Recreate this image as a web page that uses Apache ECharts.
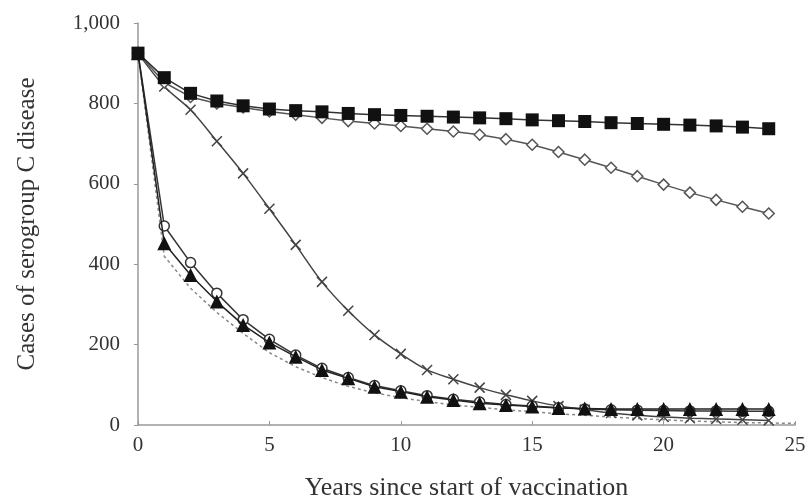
<!DOCTYPE html>
<html>
<head>
<meta charset="utf-8">
<script src="https://cdn.jsdelivr.net/npm/echarts@6/dist/echarts.min.js"></script>
<style>
  html, body { margin: 0; padding: 0; background: #fff; }
  #chart { width: 808px; height: 500px; }
</style>
</head>
<body>
<div id="chart"></div>
<script>
// years 0..24
const years = [0, 1, 2, 3, 4, 5, 6, 7, 8, 9, 10, 11, 12, 13, 14, 15, 16, 17, 18, 19, 20, 21, 22, 23, 24]
const squares = [925, 864, 825, 806, 794, 786, 782, 779, 775, 772, 770, 768, 766, 764, 762, 759, 757, 755, 752, 750, 748, 746, 744, 741, 737]
const diamonds = [925, 852, 816, 800, 790, 780, 772, 764, 756, 750, 744, 737, 730, 722, 711, 697, 679, 660, 640, 619, 598, 578, 560, 543, 526]
const crosses = [925, 842, 784, 706, 626, 538, 448, 356, 284, 224, 177, 137, 114, 93, 75, 60, 47, 38, 30, 24, 20, 17, 15, 13, 11]
const circles = [925, 495, 404, 328, 262, 213, 174, 141, 118, 98, 85, 73, 64, 57, 51, 47, 43, 40, 38, 37, 36, 35, 35, 34, 34]
const triangles = [925, 452, 373, 307, 249, 205, 170, 137, 116, 95, 83, 70, 62, 54, 50, 46, 42, 41, 40, 40, 40, 40, 40, 40, 40]
// dashed curve, no markers (years 0..25)
const dashYears = [0, 1, 2, 3, 4, 5, 6, 7, 8, 9, 10, 11, 12, 13, 14, 15, 16, 17, 18, 19, 20, 21, 22, 23, 24, 25]
const dashed = [925, 420, 340, 280, 228, 180, 145, 118, 96, 80, 68, 58, 50, 44, 38, 33, 28, 24, 20, 16, 13, 10, 8, 6, 5, 4]

const font = 'Liberation Serif'
const crossPath = 'path://M0,0L10,10M10,0L0,10'

function pairs(xs, ys) {
  return xs.map((x, i) => [x, ys[i]])
}

const chart = echarts.init(document.getElementById('chart'))

function markerSeries(name, ys, opts) {
  return Object.assign({
    name,
    type: 'line',
    data: pairs(years, ys),
    smooth: false,
    lineStyle: { color: '#333', width: 1.5 }
  }, opts)
}

const option = {
  animation: false,
  grid: { left: 138, right: 13, top: 23, bottom: 75, outerBoundsMode: 'none' },
  xAxis: {
    type: 'value',
    min: 0,
    max: 25,
    interval: 5,
    name: 'Years since start of vaccination',
    nameLocation: 'middle',
    nameGap: 50,
    nameTextStyle: { fontFamily: font, fontSize: 26, color: '#333' },
    axisLine: { lineStyle: { color: '#999', width: 1.5 } },
    axisTick: { show: true, inside: true, length: 4, lineStyle: { color: '#999' } },
    axisLabel: { fontFamily: font, fontSize: 21, color: '#333', margin: 10, showMaxLabel: true },
    splitLine: { show: false }
  },
  yAxis: {
    type: 'value',
    min: 0,
    max: 1000,
    interval: 200,
    name: 'Cases of serogroup C disease',
    nameLocation: 'middle',
    nameGap: 98,
    nameRotate: 90,
    nameTextStyle: { fontFamily: font, fontSize: 25, color: '#333' },
    axisLine: { show: true, lineStyle: { color: '#999', width: 1.5 } },
    axisTick: { show: true, length: 4, lineStyle: { color: '#999' } },
    axisLabel: {
      fontFamily: font, fontSize: 21, color: '#333', margin: 18,
      formatter: (v) => v.toLocaleString('en-US')
    },
    splitLine: { show: false }
  },
  series: [
    {
      name: 'dashed',
      type: 'line',
      data: pairs(dashYears, dashed),
      symbol: 'none',
      lineStyle: { color: '#888', width: 1.5, type: [3, 3] },
      z: 1
    },
    markerSeries('crosses', crosses, {
      symbol: crossPath,
      symbolSize: 10,
      itemStyle: { color: 'none', borderColor: '#444', borderWidth: 1.5 },
      lineStyle: { color: '#444', width: 1.5 },
      smooth: 0.3,
      z: 2
    }),
    markerSeries('circles', circles, {
      symbol: 'circle',
      symbolSize: 10,
      itemStyle: { color: '#fff', borderColor: '#333', borderWidth: 1.5 },
      z: 3
    }),
    markerSeries('triangles', triangles, {
      symbol: 'triangle',
      symbolSize: 14,
      itemStyle: { color: '#111' },
      lineStyle: { color: '#222', width: 1.5 },
      z: 4
    }),
    markerSeries('diamonds', diamonds, {
      symbol: 'diamond',
      symbolSize: 11,
      itemStyle: { color: '#fff', borderColor: '#555', borderWidth: 1.5 },
      lineStyle: { color: '#555', width: 1.5 },
      z: 3
    }),
    markerSeries('squares', squares, {
      symbol: 'rect',
      symbolSize: 13,
      itemStyle: { color: '#111' },
      lineStyle: { color: '#333', width: 1.5 },
      z: 4
    })
  ]
}

chart.setOption(option)
</script>
</body>
</html>
